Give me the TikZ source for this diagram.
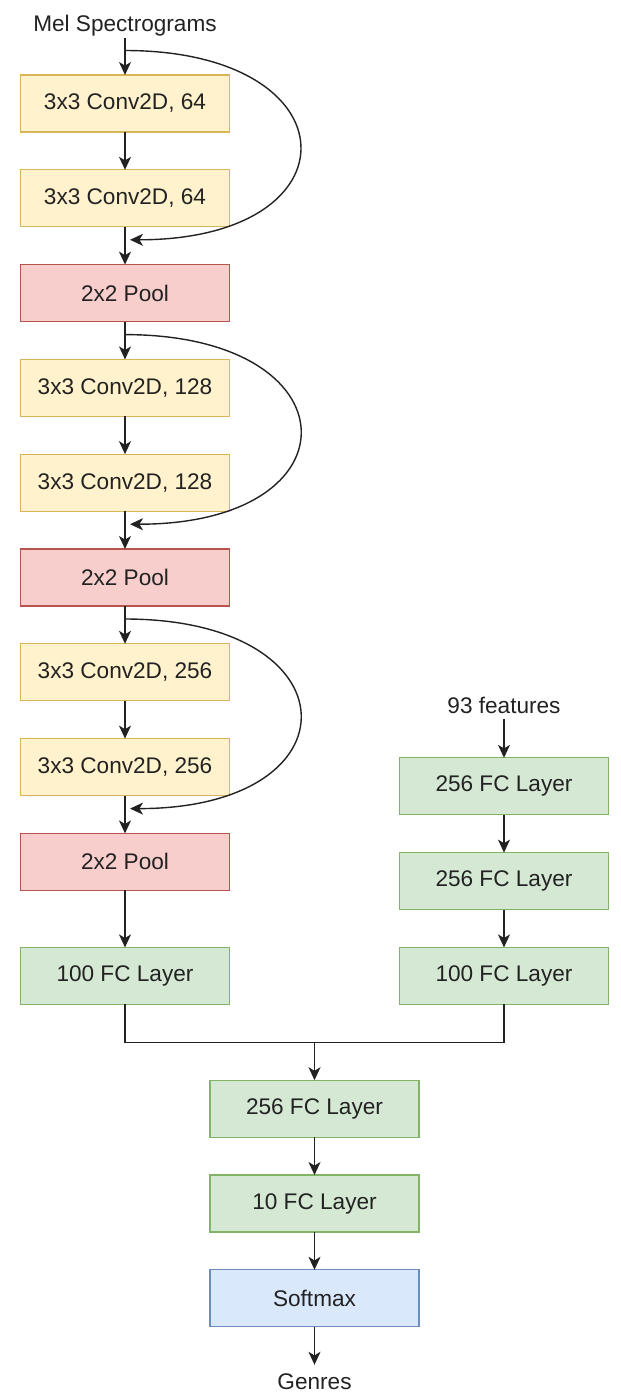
\documentclass[tikz,border=0pt]{standalone}
\usepackage{fontspec}
\setmainfont{Liberation Sans}
\usepackage{xcolor}
\usepackage{tikz}
\usetikzlibrary{arrows.meta,positioning,calc}
\definecolor{ConvFill}{HTML}{FFF2CC}
\definecolor{ConvLine}{HTML}{D6B656}
\definecolor{PoolFill}{HTML}{F8CECC}
\definecolor{PoolLine}{HTML}{B85450}
\definecolor{FcFill}{HTML}{D5E8D4}
\definecolor{FcLine}{HTML}{82B366}
\definecolor{SoftFill}{HTML}{DAE8FC}
\definecolor{SoftLine}{HTML}{6C8EBF}
\definecolor{Ink}{HTML}{222222}

\begin{document}
\begin{tikzpicture}[
  node distance=18.9pt,
  every node/.style={font=\fontsize{11.3}{13}\selectfont,text=Ink,align=center},
  layer/.style={line width=0.6pt,minimum width=104.5pt,minimum height=28.5pt,inner sep=0pt,outer sep=0pt},
  conv/.style={layer,draw=ConvLine,fill=ConvFill},
  pool/.style={layer,draw=PoolLine,fill=PoolFill},
  fc/.style={layer,draw=FcLine,fill=FcFill},
  soft/.style={layer,draw=SoftLine,fill=SoftFill},
  lbl/.style={inner sep=1pt,outer sep=0pt},
  arr/.style={-{Stealth[length=6.5pt,width=6pt,inset=1.8pt]},line width=0.7pt,Ink},
  skiparr/.style={arr,out=0,in=0,looseness=3.1}
]
\useasboundingbox (0,0) rectangle (310.5pt,-697pt);
% convolutional branch
\node[conv] (c1) at (62.5pt,-51.75pt) {3x3 Conv2D, 64};
\node[lbl,above=18.5pt of c1] (mel) {Mel Spectrograms};
\node[conv,below=of c1] (c2) {3x3 Conv2D, 64};
\node[pool,below=of c2] (p1) {2x2 Pool};
\node[conv,below=of p1] (c3) {3x3 Conv2D, 128};
\node[conv,below=of c3] (c4) {3x3 Conv2D, 128};
\node[pool,below=of c4] (p2) {2x2 Pool};
\node[conv,below=of p2] (c5) {3x3 Conv2D, 256};
\node[conv,below=of c5] (c6) {3x3 Conv2D, 256};
\node[pool,below=of c6] (p3) {2x2 Pool};
\node[fc,below=28.5pt of p3] (fcL) {100 FC Layer};
% feature branch
\node[fc,right=85pt of fcL] (fcR3) {100 FC Layer};
\node[fc,above=of fcR3] (fcR2) {256 FC Layer};
\node[fc,above=of fcR2] (fcR1) {256 FC Layer};
\node[lbl,above=19.5pt of fcR1,outer sep=1.5pt] (feat) {93 features};
% merged head
\coordinate (mj) at ($(fcL.south)!0.5!(fcR3.south)+(0,-19pt)$);
\node[fc,below=of mj] (h1) {256 FC Layer};
\node[fc,below=of h1] (h2) {10 FC Layer};
\node[soft,below=of h2] (sm) {Softmax};
\node[lbl,below=19pt of sm,outer sep=3.5pt] (out) {Genres};
% skip points
\coordinate (s1) at ($(mel.south)+(0,-6.25pt)$);
\coordinate (e1) at ($(c2.south)+(2.5pt,-6.5pt)$);
\coordinate (s2) at ($(p1.south)+(0,-6.5pt)$);
\coordinate (e2) at ($(c4.south)+(2.5pt,-6.5pt)$);
\coordinate (s3) at ($(p2.south)+(0,-6.5pt)$);
\coordinate (e3) at ($(c6.south)+(2.5pt,-6.5pt)$);
\draw[arr] (mel)--(c1); \draw[arr] (c1)--(c2); \draw[arr] (c2)--(p1);
\draw[arr] (p1)--(c3); \draw[arr] (c3)--(c4); \draw[arr] (c4)--(p2);
\draw[arr] (p2)--(c5); \draw[arr] (c5)--(c6); \draw[arr] (c6)--(p3);
\draw[arr] (p3)--(fcL);
\draw[skiparr] (s1) to (e1); \draw[skiparr] (s2) to (e2); \draw[skiparr] (s3) to (e3);
\draw[arr] (feat)--(fcR1); \draw[arr] (fcR1)--(fcR2); \draw[arr] (fcR2)--(fcR3);
\draw[line width=0.7pt,Ink] (fcL.south) |- (mj) -| (fcR3.south);
\draw[arr] (mj)--(h1); \draw[arr] (h1)--(h2); \draw[arr] (h2)--(sm); \draw[arr] (sm)--(out);
\end{tikzpicture}
\end{document}
